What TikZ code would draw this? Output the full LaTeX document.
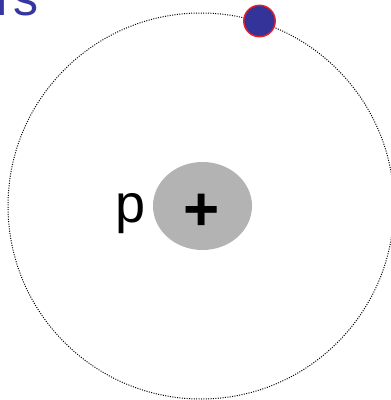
\documentclass[tikz,border=0pt]{standalone}
\usepackage{fontspec}
\setmainfont{Liberation Sans}
\usetikzlibrary{shapes.geometric}
\definecolor{eblue}{HTML}{333399}
\definecolor{ered}{HTML}{E8202A}
\definecolor{titleblue}{HTML}{3636A3}
\definecolor{nucgray}{HTML}{B3B3B3}
\begin{document}
\begin{tikzpicture}[x=1pt,y=-1pt,
  orbit/.style={draw=black,line width=1pt,dash pattern=on 1pt off 1.4pt},
  nucleus/.style={ellipse,fill=nucgray,draw=none,minimum width=99pt,minimum height=88pt,inner sep=0pt},
  electron/.style={circle,fill=eblue,draw=ered,line width=1.4pt,minimum size=31.5pt,inner sep=0pt},
  lbl/.style={inner sep=0pt,font=\fontsize{54}{54}\selectfont},
  title/.style={inner sep=0pt,text=titleblue,font=\fontsize{50}{50}\selectfont}]
\useasboundingbox (0,0) rectangle (391,400);
\fill[white] (0,0) rectangle (391,400);
\node[circle,orbit,minimum size=386pt,inner sep=0pt] (orbit) at (201,206) {};
\node[nucleus] (nuc) at (202.5,206) {};
\node[inner sep=0pt,font=\fontsize{62}{62}\selectfont\bfseries] (plus) at (202,212.5) {+};
\node[lbl,anchor=base west] (p) at (115,222) {p};
\node[electron] (e) at (259.5,21) {};
\node[title,anchor=base west] (t) at (-3.5,15) {rs};
\end{tikzpicture}
\end{document}
